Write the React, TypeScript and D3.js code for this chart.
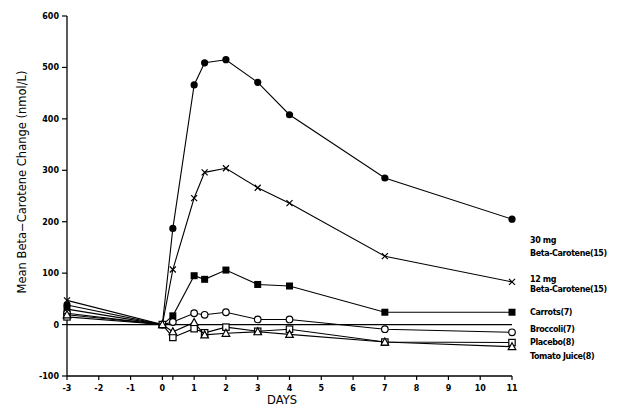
import React from "react";
import * as d3 from "d3";

const days = [-3, 0, 0.33, 1, 1.33, 2, 3, 4, 7, 11];
const mg30 = [38, 0, 187, 466, 509, 515, 471, 408, 285, 205];
const mg12 = [47, 0, 107, 246, 296, 304, 266, 236, 133, 83];
const carrots = [30, 0, 17, 95, 88, 106, 78, 75, 24, 24];
const broccoli = [22, 0, 5, 22, 19, 24, 10, 10, -9, -15];
const placebo = [15, 0, -25, -8, -16, -5, -13, -9, -34, -35];
const tomato = [19, 0, -14, 4, -20, -17, -14, -19, -34, -43];

const xTicks = [-3, -2, -1, 0, 1, 2, 3, 4, 5, 6, 7, 8, 9, 10, 11];
const yTicks = [-100, 0, 100, 200, 300, 400, 500, 600];

type Mk = "dot" | "x" | "sq" | "circ" | "osq" | "tri";
const series: { values: number[]; marker: Mk; label: string[] }[] = [
  { values: mg30, marker: "dot", label: ["30 mg", "Beta-Carotene(15)"] },
  { values: mg12, marker: "x", label: ["12 mg", "Beta-Carotene(15)"] },
  { values: carrots, marker: "sq", label: ["Carrots(7)"] },
  { values: broccoli, marker: "circ", label: ["Broccoli(7)"] },
  { values: placebo, marker: "osq", label: ["Placebo(8)"] },
  { values: tomato, marker: "tri", label: ["Tomato Juice(8)"] },
];
const labelY = [[240, 253], [279, 289], [312], [329], [342], [356]];

const x = d3.scaleLinear().domain([-3, 11]).range([67, 512]);
const y = d3.scaleLinear().domain([-100, 600]).range([376, 16]);

function Marker({ t, cx, cy }: { t: Mk; cx: number; cy: number }) {
  const s = { stroke: "#000", strokeWidth: 1.2 };
  switch (t) {
    case "dot":
      return <circle cx={cx} cy={cy} r={3.6} fill="#000" />;
    case "x":
      return (
        <path d={`M${cx - 3},${cy - 3}L${cx + 3},${cy + 3}M${cx - 3},${cy + 3}L${cx + 3},${cy - 3}`} {...s} />
      );
    case "sq":
      return <rect x={cx - 3.5} y={cy - 3.5} width={7} height={7} fill="#000" />;
    case "circ":
      return <circle cx={cx} cy={cy} r={3.3} fill="#fff" {...s} />;
    case "osq":
      return <rect x={cx - 3.2} y={cy - 3.2} width={6.4} height={6.4} fill="#fff" {...s} />;
    case "tri":
      return <path d={`M${cx},${cy - 4}L${cx + 3.8},${cy + 3}L${cx - 3.8},${cy + 3}Z`} fill="#fff" {...s} />;
  }
}

export default function App() {
  const line = d3
    .line<number>()
    .x((_, i) => x(days[i]))
    .y((d) => y(d));
  const font = "'DejaVu Sans', Arial, sans-serif";
  return (
    <svg width={617} height={413} style={{ position: "absolute", left: 0, top: 0 }} fontFamily={font}>
      <rect width={617} height={413} fill="#fff" />
      {/* axes */}
      <line x1={x(-3)} x2={x(-3)} y1={y(600)} y2={y(-100)} stroke="#000" strokeWidth={1.3} />
      <line x1={x(-3)} x2={x(11)} y1={y(-100)} y2={y(-100)} stroke="#000" strokeWidth={1.3} />
      <line x1={x(-3)} x2={x(11)} y1={y(0)} y2={y(0)} stroke="#000" strokeWidth={1.2} />
      {yTicks.map((t) => (
        <g key={t}>
          <line x1={x(-3) - 5} x2={x(-3)} y1={y(t)} y2={y(t)} stroke="#000" strokeWidth={1.2} />
          <text x={x(-3) - 8} y={y(t) + 3} fontSize={8} fontWeight="bold" textAnchor="end">
            {t}
          </text>
        </g>
      ))}
      {xTicks.map((t) => (
        <g key={t}>
          <line x1={x(t)} x2={x(t)} y1={y(-100)} y2={y(-100) + 4} stroke="#000" strokeWidth={1.2} />
          <text x={x(t)} y={y(-100) + 15} fontSize={8} fontWeight="bold" textAnchor="middle">
            {t}
          </text>
        </g>
      ))}
      <line x1={x(0.33)} x2={x(0.33)} y1={y(-100)} y2={y(-100) + 4} stroke="#000" strokeWidth={1.2} />
      <text x={282} y={404} fontSize={11.5} textAnchor="middle">DAYS</text>
      <text transform="translate(26,182) rotate(-90)" fontSize={11.5} textAnchor="middle">
        Mean Beta−Carotene Change (nmol/L)
      </text>
      {series.map((s, si) => (
        <g key={si}>
          <path d={line(s.values) || ""} fill="none" stroke="#000" strokeWidth={1.1} />
          {s.values.map((v, i) => (
            <Marker key={i} t={s.marker} cx={x(days[i])} cy={y(v)} />
          ))}
          {s.label.map((l, li) => (
            <text key={li} x={530} y={labelY[si][li] + 3} fontSize={8} fontWeight="bold" letterSpacing={-0.4}>
              {l}
            </text>
          ))}
        </g>
      ))}
    </svg>
  );
}
